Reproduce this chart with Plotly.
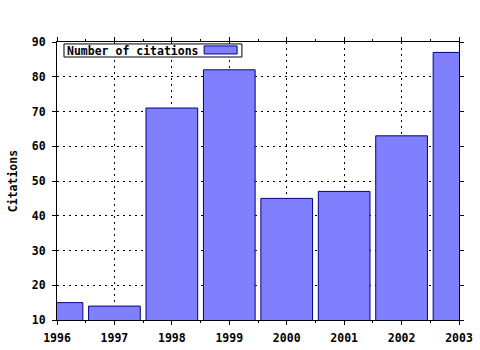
import plotly.graph_objects as go

years = [1996, 1997, 1998, 1999, 2000, 2001, 2002, 2003]
citations = [15, 14, 71, 82, 45, 47, 63, 87]
x_ticks = [1996, 1997, 1998, 1999, 2000, 2001, 2002, 2003]
y_ticks = [10, 20, 30, 40, 50, 60, 70, 80, 90]

FILL = "rgb(128,128,255)"
EDGE = "rgb(0,0,140)"
FONT = dict(family="DejaVu Sans Mono", size=11.5, color="black", weight="bold")

fig = go.Figure()
fig.add_trace(go.Bar(x=years, y=citations, width=0.9,
                     marker=dict(color=FILL, line=dict(color=EDGE, width=1)),
                     name="Number of citations", showlegend=False))

fig.update_layout(
    width=480, height=350,
    margin=dict(l=57, r=21, t=42, b=30, autoexpand=False),
    plot_bgcolor="white", paper_bgcolor="white",
    font=FONT,
    xaxis=dict(range=[1996, 2003], tickvals=x_ticks, ticktext=[str(v) for v in x_ticks],
               showgrid=True, gridcolor="black", griddash="2px,4px", gridwidth=1,
               showline=True, linecolor="black", linewidth=1, mirror="ticks",
               ticks="outside", ticklen=4, tickcolor="black", tickfont=FONT,
               ticklabelstandoff=3, automargin=False,
               minor=dict(dtick=0.5, tick0=1996, ticks="outside", ticklen=2, tickcolor="black", showgrid=False),
               zeroline=False),
    yaxis=dict(range=[10, 90], tickvals=y_ticks,
               showgrid=True, gridcolor="black", griddash="2px,4px", gridwidth=1,
               showline=True, linecolor="black", linewidth=1, mirror="ticks",
               ticks="outside", ticklen=4, tickcolor="black", tickfont=FONT,
               ticklabelstandoff=4, automargin=False,
               zeroline=False),
)

# legend box (text then sample), gnuplot style
fig.add_shape(type="rect", xref="paper", yref="paper",
              x0=0.0174, x1=0.460, y0=0.946, y1=0.993,
              line=dict(color="black", width=1), fillcolor="white", layer="above")
fig.add_shape(type="rect", xref="paper", yref="paper",
              x0=0.366, x1=0.448, y0=0.957, y1=0.986,
              line=dict(color=EDGE, width=1), fillcolor=FILL, layer="above")
fig.add_annotation(text="Number of citations", xref="paper", yref="paper",
                   x=0.0199, y=0.969, xanchor="left", yanchor="middle",
                   showarrow=False, font=FONT)
fig.add_annotation(text="Citations", xref="paper", yref="paper",
                   x=-0.109, y=0.5, xanchor="center", yanchor="middle",
                   textangle=-90, showarrow=False, font=FONT)

fig.write_html("out.html")
